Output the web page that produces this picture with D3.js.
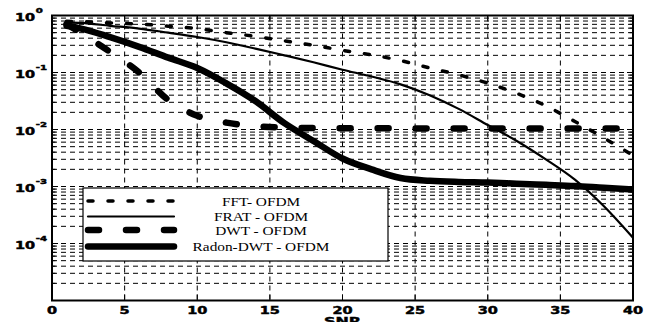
<!DOCTYPE html>
<html>
<head>
<meta charset="utf-8">
<script src="https://cdn.jsdelivr.net/npm/d3@7"></script>
<style>
  html, body { margin: 0; padding: 0; background: #fff; }
  svg { display: block; }
</style>
</head>
<body>
<svg id="chart" width="647" height="322"></svg>
<script>
// SNR sample points (dB)
const snr = [1, 2, 4, 6, 8, 10, 12, 14, 16, 18, 20, 22, 24, 26, 28, 30, 32, 34, 36, 38, 40];

// Bit error rate of each scheme at the SNR points above
const fftOfdm = [0.79, 0.78, 0.74, 0.71, 0.65, 0.59, 0.50, 0.43, 0.36, 0.30, 0.245, 0.204, 0.162, 0.120, 0.091, 0.065, 0.043, 0.026, 0.0138, 0.0071, 0.0035];
const fratOfdm = [0.76, 0.74, 0.66, 0.59, 0.50, 0.42, 0.34, 0.263, 0.20, 0.151, 0.112, 0.085, 0.062, 0.040, 0.023, 0.012, 0.0063, 0.0030, 0.00132, 0.00045, 0.000126];
const dwtOfdm = [0.71, 0.49, 0.23, 0.10, 0.033, 0.0174, 0.0132, 0.0115, 0.0108, 0.0106, 0.0105, 0.0105, 0.0105, 0.0104, 0.0104, 0.0104, 0.0104, 0.0104, 0.0104, 0.0104, 0.0104];
const radonDwtOfdm = [0.66, 0.59, 0.417, 0.282, 0.182, 0.120, 0.0646, 0.0316, 0.0129, 0.0063, 0.0031, 0.0020, 0.00141, 0.00126, 0.0012, 0.00117, 0.00112, 0.00107, 0.00102, 0.00095, 0.00089];

// Axis ticks
const xTicks = [0, 5, 10, 15, 20, 25, 30, 35, 40];
const yTickExponents = [0, -1, -2, -3, -4];
const xLabel = "SNR";

// Legend entries
const legendLabels = ["FFT- OFDM", "FRAT - OFDM", "DWT - OFDM", "Radon-DWT - OFDM"];

const svg = d3.select("#chart");
const plotL = 52, plotR = 633, plotT = 15.5, plotB = 300.5;
const stretch = 1.45;       // horizontal widening of axis lettering
const legendStretch = 1.18; // horizontal widening of legend lettering

const x = d3.scaleLinear().domain([0, 40]).range([plotL, plotR]);
const y = d3.scaleLog().domain([1e-5, 1]).range([plotB, plotT]);

svg.append("rect").attr("width", 647).attr("height", 322).attr("fill", "#fff");

// ---- grid ----
const grid = svg.append("g").attr("stroke", "#000").attr("stroke-width", 1)
  .attr("stroke-dasharray", "5,4").attr("fill", "none");

const gridValues = [];
for (let e = -5; e <= -1; e++) {
  for (let k = 1; k <= 9; k++) {
    if (e === -5 && k === 1) continue;
    gridValues.push(k * Math.pow(10, e));
  }
}
grid.selectAll("line.h").data(gridValues).join("line")
  .attr("class", "h")
  .attr("x1", plotL).attr("x2", plotR)
  .attr("y1", d => y(d)).attr("y2", d => y(d));

grid.selectAll("line.v").data(xTicks.filter(d => d > 0 && d < 40)).join("line")
  .attr("class", "v")
  .attr("x1", d => x(d)).attr("x2", d => x(d))
  .attr("y1", plotT).attr("y2", plotB);

// ---- curves ----
svg.append("clipPath").attr("id", "plotClip")
  .append("rect").attr("x", plotL).attr("y", plotT).attr("width", plotR - plotL).attr("height", plotB - plotT);

const line = d3.line().x(d => x(d[0])).y(d => y(d[1])).curve(d3.curveMonotoneX);
const series = [
  { values: fftOfdm, width: 3.5, dash: "5,15" },
  { values: fratOfdm, width: 2.2, dash: null },
  { values: dwtOfdm, width: 6.5, dash: "11,27" },
  { values: radonDwtOfdm, width: 6.5, dash: null }
];

const curves = svg.append("g").attr("clip-path", "url(#plotClip)");
series.forEach(s => {
  curves.append("path")
    .datum(snr.map((v, i) => [v, s.values[i]]))
    .attr("d", line)
    .attr("fill", "none")
    .attr("stroke", "#000")
    .attr("stroke-width", s.width)
    .attr("stroke-linecap", "round")
    .attr("stroke-linejoin", "round")
    .attr("stroke-dasharray", s.dash);
});

// ---- legend ----
const legend = svg.append("g");
legend.append("rect")
  .attr("x", 83).attr("y", 188).attr("width", 305).attr("height", 73)
  .attr("fill", "#fff").attr("stroke", "#000").attr("stroke-width", 1.2);

const rowY = [201, 216.5, 230, 246.5];
series.forEach((s, i) => {
  legend.append("line")
    .attr("x1", 88).attr("x2", 174)
    .attr("y1", rowY[i]).attr("y2", rowY[i])
    .attr("stroke", "#000")
    .attr("stroke-width", s.width)
    .attr("stroke-linecap", "round")
    .attr("stroke-dasharray", s.dash);
  legend.append("text")
    .attr("transform", `translate(261,${rowY[i] + 4.7}) scale(${legendStretch},1)`)
    .attr("text-anchor", "middle")
    .attr("font-family", "'Liberation Serif', 'Times New Roman', serif")
    .attr("font-size", 13)
    .attr("fill", "#000")
    .text(legendLabels[i]);
});

// ---- frame and ticks ----
const frame = svg.append("g").attr("stroke", "#000").attr("fill", "none");
xTicks.filter(d => d > 0 && d < 40).forEach(d => {
  frame.append("line").attr("x1", x(d)).attr("x2", x(d)).attr("y1", plotB).attr("y2", plotB - 6).attr("stroke-width", 1);
  frame.append("line").attr("x1", x(d)).attr("x2", x(d)).attr("y1", plotT).attr("y2", plotT + 6).attr("stroke-width", 1);
});
gridValues.forEach(v => {
  const major = Math.abs(Math.log10(v) - Math.round(Math.log10(v))) < 1e-9;
  const len = major ? 6 : 3.5;
  frame.append("line").attr("x1", plotL).attr("x2", plotL + len).attr("y1", y(v)).attr("y2", y(v)).attr("stroke-width", 1);
  frame.append("line").attr("x1", plotR).attr("x2", plotR - len).attr("y1", y(v)).attr("y2", y(v)).attr("stroke-width", 1);
});
frame.append("rect")
  .attr("x", plotL).attr("y", plotT).attr("width", plotR - plotL).attr("height", plotB - plotT)
  .attr("stroke-width", 2);

// ---- tick labels ----
const labelFont = "'DejaVu Sans', sans-serif";
function heavy(sel) {
  return sel.attr("font-family", labelFont)
    .attr("font-weight", "bold")
    .attr("fill", "#000")
    .attr("stroke", "#000")
    .attr("stroke-width", 0.45);
}

xTicks.forEach(d => {
  heavy(svg.append("text"))
    .attr("transform", `translate(${x(d)},313.5) scale(${stretch},1)`)
    .attr("text-anchor", "middle")
    .attr("font-size", 10)
    .text(d);
});

yTickExponents.forEach(e => {
  const t = heavy(svg.append("text"))
    .attr("transform", `translate(15,${y(Math.pow(10, e)) + 5.2}) scale(${stretch},1)`)
    .attr("font-size", 10);
  t.append("tspan").text("10");
  t.append("tspan").attr("dx", 0.5).attr("dy", -8).attr("font-size", 7).text(e === 0 ? "0" : "-" + Math.abs(e));
});

heavy(svg.append("text"))
  .attr("transform", `translate(${x(20)},325) scale(${stretch},1)`)
  .attr("text-anchor", "middle")
  .attr("font-size", 11)
  .text(xLabel);
</script>
</body>
</html>
